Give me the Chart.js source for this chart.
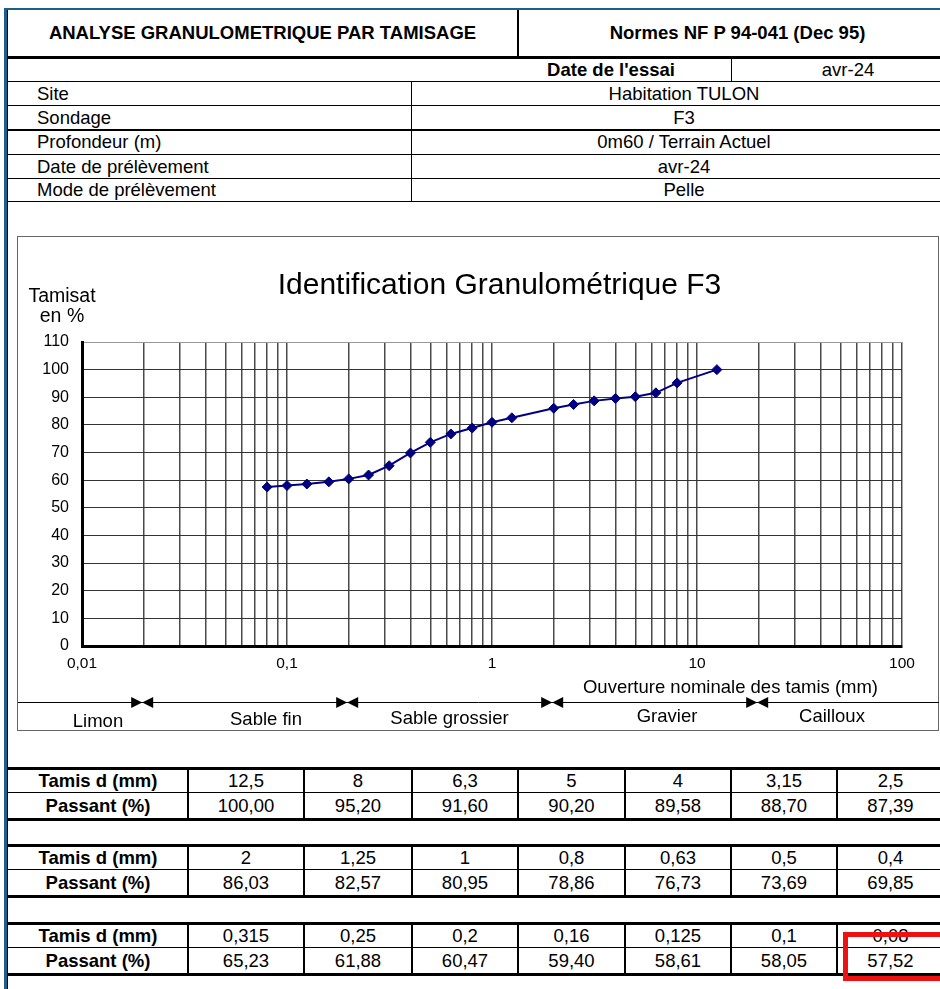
<!DOCTYPE html>
<html><head><meta charset="utf-8">
<script src="https://cdn.jsdelivr.net/npm/chart.js@4.4.1/dist/chart.umd.min.js"></script>
<style>
body{margin:0;background:#fff;width:940px;height:989px;overflow:hidden;position:relative;font-family:"Liberation Sans",Arial,sans-serif;color:#000}
.a{position:absolute}
.t{position:absolute;white-space:nowrap;font-size:18.5px;height:22px;line-height:22px}
</style></head><body>
<div id="page"></div>
<div class="a" style="left:17px;top:236px;width:922px;height:495px;border:1px solid #666;box-sizing:border-box"></div>
<canvas id="c" width="921" height="495" class="a" style="left:18px;top:236px"></canvas>
<div id="over"></div>
<script>
// ---- data ----
const sieveSizes = [12.5, 8, 6.3, 5, 4, 3.15, 2.5, 2, 1.25, 1, 0.8, 0.63, 0.5, 0.4, 0.315, 0.25, 0.2, 0.16, 0.125, 0.1, 0.08];
const passing = [100.00, 95.20, 91.60, 90.20, 89.58, 88.70, 87.39, 86.03, 82.57, 80.95, 78.86, 76.73, 73.69, 69.85, 65.23, 61.88, 60.47, 59.40, 58.61, 58.05, 57.52];
const xTickValues = [0.01, 0.1, 1, 10, 100];
const xTickLabels = ['0,01', '0,1', '1', '10', '100'];
const yTickValues = [0, 10, 20, 30, 40, 50, 60, 70, 80, 90, 100, 110];
const bandBounds = [0.02, 0.2, 2, 20];
const bandLabels = ['Limon', 'Sable fin', 'Sable grossier', 'Gravier', 'Cailloux'];
const infoLabels = ['Site', 'Sondage', 'Profondeur (m)', 'Date de prélèvement', 'Mode de prélèvement'];
const infoValues = ['Habitation TULON', 'F3', '0m60 / Terrain Actuel', 'avr-24', 'Pelle'];
const headerLeft = 'ANALYSE GRANULOMETRIQUE PAR TAMISAGE';
const headerRight = 'Normes NF P 94-041 (Dec 95)';
const testDateLabel = "Date de l'essai";
const testDate = 'avr-24';
const chartTitle = 'Identification Granulométrique F3';
const yTitle = ['Tamisat', 'en %'];
const xTitle = 'Ouverture nominale des tamis (mm)';

// ---- page drawing helpers ----
const page = document.getElementById('page');
function box(x, y, w, h, color) {
  const d = document.createElement('div');
  d.className = 'a';
  d.style.cssText = `left:${x}px;top:${y}px;width:${w}px;height:${h}px;background:${color}`;
  page.appendChild(d);
}
function txt(s, x, cy, opt = {}) {
  const d = document.createElement('div');
  d.className = 't';
  d.textContent = s;
  if (opt.bold) d.style.fontWeight = 'bold';
  if (opt.left) { d.style.left = x + 'px'; }
  else { d.style.left = (x - 250) + 'px'; d.style.width = '500px'; d.style.textAlign = 'center'; }
  d.style.top = (cy - 11) + 'px';
  page.appendChild(d);
}
const fmt = v => String(v).replace('.', ',');
const fmt2 = v => v.toFixed(2).replace('.', ',');

// outer borders
box(4, 8, 3, 981, '#1d5f8c');
box(4, 8, 936, 2, '#1d5f8c');
box(7, 10, 1, 979, '#000');
// header row
box(517, 10, 2, 47, '#000');
txt(headerLeft, 262.5, 32.5, {bold: true});
txt(headerRight, 737.5, 32.5, {bold: true});
box(7, 56, 933, 3, '#000');
// date row
box(731, 59, 1, 22, '#000');
txt(testDateLabel, 611, 70, {bold: true});
txt(testDate, 848, 70);
box(7, 81, 933, 1, '#000');
// info rows
const rowTops = [82, 106, 130, 155, 179];
const rowBottoms = [105, 129, 154, 178, 201];
infoLabels.forEach((l, i) => {
  const cy = (rowTops[i] + rowBottoms[i]) / 2;
  txt(l, 37, cy, {left: true});
  txt(infoValues[i], 684, cy);
  box(7, rowBottoms[i], 933, i === 1 ? 2 : 1, '#000');
});
box(411, 82, 1, 119, '#000');

// sieve tables
const tableTops = [767, 844, 922];
const colX = [188, 304, 412, 518, 625, 731, 837, 944];
for (let t = 0; t < 3; t++) {
  const top = tableTops[t];
  box(8, top, 932, 3, '#000');
  box(8, top + 25, 932, 1, '#000');
  box(8, top + 51, 932, 3, '#000');
  colX.forEach(x => box(x - 1, top, 2, 54, '#000'));
  txt('Tamis d (mm)', 98, top + 14, {bold: true});
  txt('Passant (%)', 98, top + 38.5, {bold: true});
  for (let k = 0; k < 7; k++) {
    const idx = t * 7 + k;
    const cx = (colX[k] + colX[k + 1]) / 2;
    txt(fmt(sieveSizes[idx]), cx, top + 14);
    txt(fmt2(passing[idx]), cx, top + 38.5);
  }
}
// red highlight
const over = document.getElementById('over');
const r = document.createElement('div');
r.className = 'a';
r.style.cssText = 'left:843px;top:932px;width:110px;height:49px;border:5px solid #ee1111;box-sizing:border-box';
over.appendChild(r);

// ---- chart ----
const FONT = '"Liberation Sans", Arial, sans-serif';
const decor = {
  id: 'decor',
  afterDraw(chart) {
    const {ctx, scales: {x}} = chart;
    ctx.save();
    ctx.fillStyle = '#000';
    ctx.textAlign = 'center';
    ctx.textBaseline = 'middle';
    ctx.font = `30px ${FONT}`;
    ctx.fillText(chartTitle, 481.5, 50);
    ctx.font = `19.5px ${FONT}`;
    ctx.fillText(yTitle[0], 44, 61);
    ctx.fillText(yTitle[1], 44, 81);
    ctx.font = `18.5px ${FONT}`;
    ctx.fillText(xTitle, 712.5, 452);
    // classification band
    const by = 466;
    ctx.strokeStyle = '#000';
    ctx.lineWidth = 1;
    ctx.beginPath(); ctx.moveTo(0, by + 0.5); ctx.lineTo(921, by + 0.5); ctx.stroke();
    bandBounds.forEach(v => {
      const px = x.getPixelForValue(v) - 1.5;
      ctx.beginPath(); ctx.moveTo(px - 11, by - 5); ctx.lineTo(px, by + 0.5); ctx.lineTo(px - 11, by + 6); ctx.closePath(); ctx.fill();
      ctx.beginPath(); ctx.moveTo(px + 11, by - 5); ctx.lineTo(px, by + 0.5); ctx.lineTo(px + 11, by + 6); ctx.closePath(); ctx.fill();
    });
    const lx = [80, 248, 431.5, 649, 814];
    const ly = [486, 483.5, 483, 481, 481];
    bandLabels.forEach((l, i) => ctx.fillText(l, lx[i], ly[i]));
    ctx.restore();
  }
};

new Chart(document.getElementById('c'), {
  type: 'line',
  data: {
    datasets: [{
      data: sieveSizes.map((s, i) => ({x: s, y: passing[i]})),
      borderColor: '#000080',
      backgroundColor: '#000080',
      borderWidth: 2,
      pointStyle: 'rectRot',
      pointRadius: 5,
      pointBorderWidth: 1,
      tension: 0
    }]
  },
  options: {
    responsive: false,
    animation: false,
    layout: {padding: {top: 106, right: 37, left: 0, bottom: 0}},
    plugins: {legend: {display: false}, tooltip: {enabled: false}, title: {display: false}},
    scales: {
      x: {
        type: 'logarithmic',
        min: 0.01, max: 100,
        afterFit: s => { s.height = 85; },
        afterBuildTicks: s => {
          const t = [];
          for (let e = -2; e <= 1; e++) for (let m = 1; m <= 9; m++) t.push({value: +(m * Math.pow(10, e)).toPrecision(3)});
          t.push({value: 100});
          s.ticks = t;
        },
        ticks: {
          autoSkip: false, maxRotation: 0, padding: 8, color: '#000',
          font: {family: FONT, size: 15.5},
          callback: v => { const i = xTickValues.findIndex(tv => Math.abs(tv - v) < tv * 1e-6); return i >= 0 ? xTickLabels[i] : ''; }
        },
        grid: {color: '#4a4a4a', lineWidth: 1.5, drawTicks: false},
        border: {color: '#000', width: 3}
      },
      y: {
        min: 0, max: 110,
        afterFit: s => { s.width = 64; },
        afterBuildTicks: s => { s.ticks = yTickValues.map(v => ({value: v})); },
        ticks: {padding: 13, color: '#000', font: {family: FONT, size: 16}},
        grid: {color: ctx => ctx.tick && ctx.tick.value === 110 ? '#999' : '#333', lineWidth: 1, drawTicks: false},
        border: {color: '#000', width: 3}
      }
    }
  },
  plugins: [decor]
});
</script>
</body></html>
